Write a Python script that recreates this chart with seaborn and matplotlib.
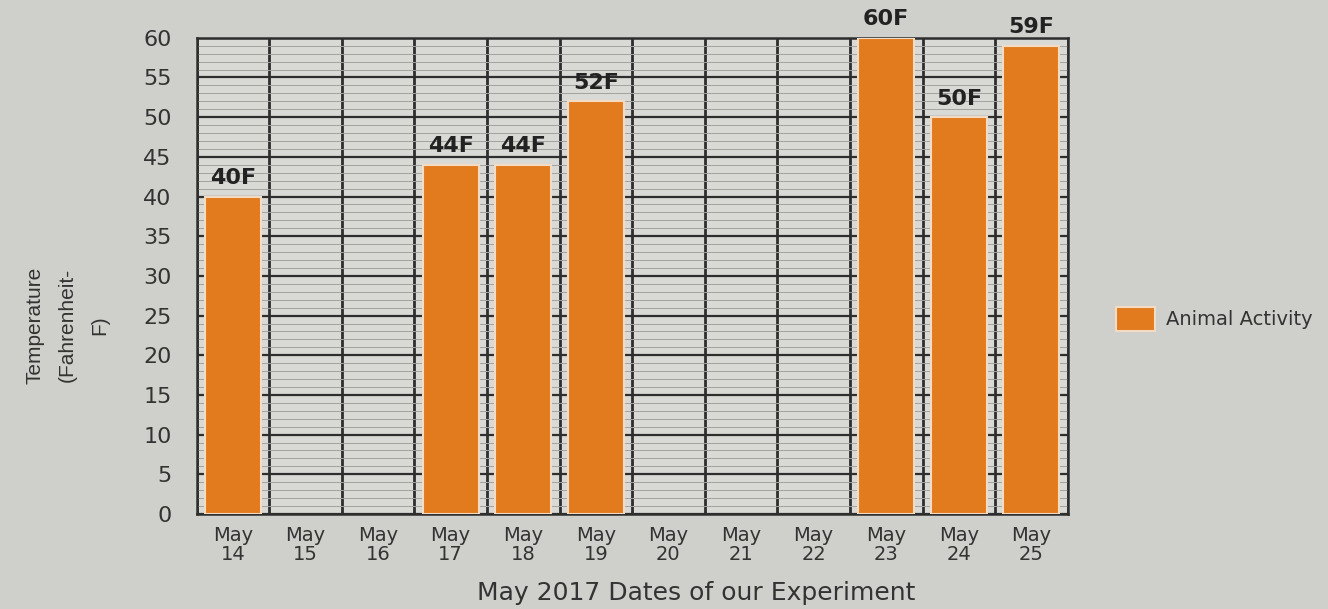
import pandas as pd
import matplotlib.pyplot as plt
import seaborn as sns
from matplotlib.ticker import MultipleLocator, FixedLocator

sns.set_style('white')
plt.rcParams['font.family'] = ['DejaVu Sans']

# data
dates = ['May\n14', 'May\n15', 'May\n16', 'May\n17', 'May\n18', 'May\n19',
         'May\n20', 'May\n21', 'May\n22', 'May\n23', 'May\n24', 'May\n25']
temps = [40, 0, 0, 44, 44, 52, 0, 0, 0, 60, 50, 59]
series = 'Animal Activity'

df = pd.DataFrame({'date': dates, 'temp': temps, 'series': series})

fig = plt.figure(figsize=(13.28, 6.09), dpi=100, facecolor='#cfcfcb')
ax = fig.add_axes([0.148, 0.156, 0.656, 0.782])
ax.set_facecolor('#d9d9d5')

sns.barplot(data=df, x='date', y='temp', hue='series', palette=['#e27a1e'],
            saturation=1, width=0.77, dodge=False, ax=ax, zorder=3,
            edgecolor='#f4dcc4', linewidth=1.5)
# hide the empty days (only the bars, not the legend handle)
for p in ax.containers[0]:
    if p.get_height() == 0:
        p.set_visible(False)

ax.set_xlim(-0.5, 11.5)
ax.set_ylim(0, 60)
ax.set_axisbelow(True)

# grid: minor every 1, major every 5, vertical lines at category edges
ax.yaxis.set_major_locator(MultipleLocator(5))
ax.yaxis.set_minor_locator(MultipleLocator(1))
ax.xaxis.set_minor_locator(FixedLocator([i - 0.5 for i in range(13)]))
ax.yaxis.grid(True, which='major', color='#2e2e2e', linewidth=1.6)
ax.yaxis.grid(True, which='minor', color='#a2a2a0', linewidth=0.7)
ax.xaxis.grid(True, which='minor', color='#2e2e2e', linewidth=2.0)
ax.xaxis.grid(False, which='major')

for s in ax.spines.values():
    s.set_color('#2e2e2e')
    s.set_linewidth(1.8)

ax.tick_params(axis='y', which='major', length=14, width=1.4, color='#2e2e2e',
               labelsize=16, labelcolor='#333333', pad=4)
ax.tick_params(axis='y', which='minor', length=0)
ax.tick_params(axis='x', which='major', length=0, labelsize=14, labelcolor='#333333', pad=9)
ax.tick_params(axis='x', which='minor', length=9, width=2, color='#2e2e2e', direction='out')
for t in ax.get_xticklabels():
    t.set_linespacing(0.95)

labels = [f'{t}F' if t > 0 else '' for t in temps]
ax.bar_label(ax.containers[0], labels=labels, padding=6, fontsize=16,
             fontweight='bold', color='#222222')

ax.set_xlabel('May 2017 Dates of our Experiment', fontsize=18, color='#333333')
ax.xaxis.set_label_coords(0.573, -0.14)
ax.set_ylabel('Temperature\n(Fahrenheit-\nF)', fontsize=15, color='#333333',
              linespacing=1.9, family=['Liberation Sans', 'DejaVu Sans'])
ax.yaxis.set_label_coords(-0.10, 0.397)

ax.legend(loc='center left', bbox_to_anchor=(1.035, 0.41), frameon=False,
          fontsize=14, handlelength=2.0, handleheight=1.5, handletextpad=0.6,
          labelcolor='#333333')

fig.savefig('out.png', dpi=100, facecolor=fig.get_facecolor())
